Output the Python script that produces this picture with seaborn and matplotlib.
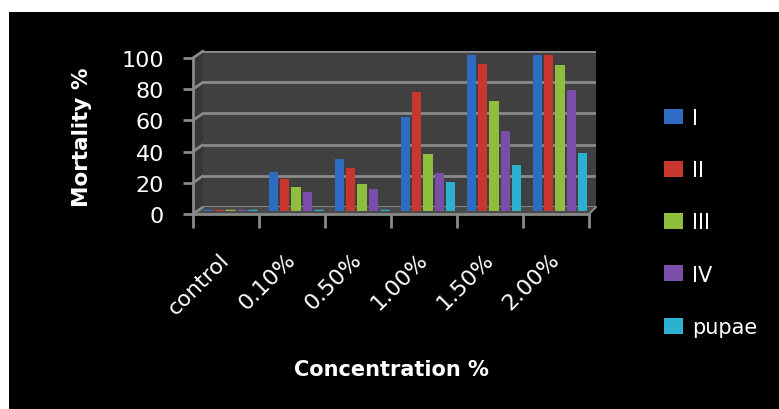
import numpy as np
import pandas as pd
import matplotlib
matplotlib.use("Agg")
import matplotlib.pyplot as plt
from matplotlib.patches import Polygon, Rectangle
import seaborn as sns

# ---- data -------------------------------------------------------------
concentrations = ["control", "0.10%", "0.50%", "1.00%", "1.50%", "2.00%"]
stages = ["I", "II", "III", "IV", "pupae"]
mortality_I = [0, 25, 33, 60, 100, 100]
mortality_II = [0, 20, 27, 76, 94, 100]
mortality_III = [0, 15, 17, 36, 70, 93]
mortality_IV = [0, 12, 14, 24, 51, 77]
mortality_pupae = [0, 0, 0, 18, 29, 37]
y_ticks = [0, 20, 40, 60, 80, 100]

series = [mortality_I, mortality_II, mortality_III, mortality_IV, mortality_pupae]
df = pd.DataFrame(
    [(c, s, v[i]) for s, v in zip(stages, series) for i, c in enumerate(concentrations)],
    columns=["Concentration", "Stage", "Mortality"],
)

colors = ["#2e6bc2", "#c9362f", "#8fbd3c", "#7a4ea8", "#2cb1d1"]

# ---- figure -----------------------------------------------------------
W, H = 779, 410
sns.set_theme(style="white")
plt.rcParams["font.family"] = ["DejaVu Sans"]
fig = plt.figure(figsize=(W / 100, H / 100), dpi=100, facecolor="white")

def fx(x):
    return x / W

def fy(y):
    return 1 - y / H

def rect(x0, y0, x1, y1):
    # axes rectangle given pixel corners (top-left origin)
    return [fx(x0), fy(y1), fx(x1) - fx(x0), fy(y0) - fy(y1)]

# black chart area
fig.patches.append(Rectangle((fx(9), 0), 1 - fx(9), fy(13), transform=fig.transFigure,
                             facecolor="black", edgecolor="none", zorder=-10))

grid_col = "#8a8a8a"
wall_col = "#404040"

# back wall with gridlines
ax_wall = fig.add_axes(rect(203, 52, 596, 208))
ax_wall.set_facecolor(wall_col)
ax_wall.set_ylim(0, 100)
ax_wall.set_xlim(0, 1)
ax_wall.set_yticks(y_ticks)
ax_wall.set_xticks([])
ax_wall.set_yticklabels([])
ax_wall.tick_params(left=False, length=0)
ax_wall.grid(axis="y", color=grid_col, linewidth=2)
for s in ax_wall.spines.values():
    s.set_visible(False)
ax_wall.set_zorder(0)

# side wall and floor
fig.patches.append(Polygon([(fx(193), fy(59)), (fx(203), fy(52)), (fx(203), fy(208)), (fx(193), fy(215))],
                           closed=True, transform=fig.transFigure, facecolor="#363636",
                           edgecolor="none", zorder=-5))
fig.patches.append(Polygon([(fx(193), fy(215)), (fx(203), fy(208)), (fx(596), fy(208)), (fx(589), fy(215))],
                           closed=True, transform=fig.transFigure, facecolor="#4a4a4a",
                           edgecolor="none", zorder=-5))
for v in y_ticks:
    yf = 215 - v * 1.56
    yb = 208 - v * 1.56
    fig.lines.append(plt.Line2D([fx(193), fx(203)], [fy(yf), fy(yb)], transform=fig.transFigure,
                                color=grid_col, linewidth=2, zorder=-4))
fig.lines.append(plt.Line2D([fx(589), fx(596)], [fy(215), fy(208)], transform=fig.transFigure,
                            color=grid_col, linewidth=1.5, zorder=-4))

# front axis frame with ticks and labels
ax_f = fig.add_axes(rect(193, 59, 589, 215))
ax_f.patch.set_visible(False)
ax_f.set_ylim(0, 100)
ax_f.set_xlim(-0.5, len(concentrations) - 0.5)
ax_f.set_yticks(y_ticks)
ax_f.set_yticklabels([str(t) for t in y_ticks], color="white", fontsize=16)
ax_f.set_xticks(range(len(concentrations)))
ax_f.set_xticklabels(concentrations, color="white", fontsize=16, rotation=45,
                     ha="right", va="center", rotation_mode="anchor")
ax_f.set_xticks(np.arange(-0.5, len(concentrations)), minor=True)
ax_f.tick_params(axis="x", which="major", length=0, pad=30)
ax_f.tick_params(axis="x", which="minor", length=10, width=2, color=grid_col, direction="out", bottom=True)
ax_f.tick_params(axis="y", length=7, width=2, color=grid_col, direction="out", left=True, pad=14)
for k in ("top", "right"):
    ax_f.spines[k].set_visible(False)
for k in ("left", "bottom"):
    ax_f.spines[k].set_color(grid_col)
    ax_f.spines[k].set_linewidth(2)
ax_f.set_xlabel("Concentration %", color="white", fontsize=15, fontweight="bold", labelpad=30)
ax_f.set_ylabel("Mortality %", color="white", fontsize=15.5, fontweight="bold", labelpad=21)
ax_f.set_zorder(1)

# bars, drawn a little behind the front frame
ax = fig.add_axes(rect(197, 55.5, 593, 211.5))
ax.set_zorder(2)
sns.barplot(data=df, x="Concentration", y="Mortality", hue="Stage", hue_order=stages,
            order=concentrations, palette=colors, width=0.84, gap=0.18,
            linewidth=0, saturation=1, ax=ax)
bar_patches = list(ax.patches)[: len(stages) * len(concentrations)]
for p, c in zip(bar_patches, np.repeat(colors, len(concentrations))):
    if p.get_height() == 0:
        # zero-mortality bars still show as a flat cap on the floor
        p.set_edgecolor(c)
        p.set_linewidth(2.5)
ax.set_ylim(0, 100)
ax.set_xlim(-0.5, len(concentrations) - 0.5)
ax.patch.set_visible(False)
ax.set_xticks([])
ax.set_yticks([])
ax.set_xlabel("")
ax.set_ylabel("")
for s in ax.spines.values():
    s.set_visible(False)

sns.move_legend(ax, loc="upper left", bbox_to_anchor=(fx(645), fy(90)),
                bbox_transform=fig.transFigure, frameon=False, title=None,
                fontsize=15, labelspacing=1.55, handlelength=0.9, handleheight=0.8,
                handletextpad=0.45)
leg = ax.get_legend()
for t in leg.get_texts():
    t.set_color("white")
for h, c in zip(leg.legend_handles, colors):
    h.set_edgecolor(c)
    h.set_linewidth(0)

fig.savefig("out.png", dpi=100, facecolor="white")
